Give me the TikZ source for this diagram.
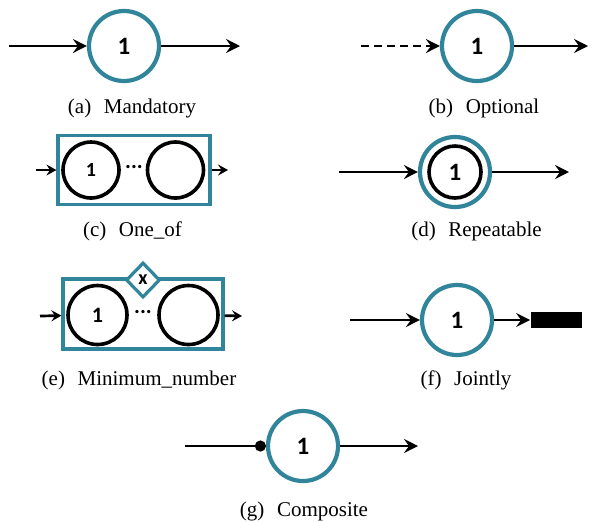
\documentclass[tikz,border=0pt]{standalone}
\usepackage{fontspec}
\setmainfont{Liberation Serif}
\newfontfamily\labelfont{Carlito}
\usetikzlibrary{arrows.meta,shapes.geometric}
\definecolor{stagecol}{RGB}{49,133,155}

\begin{document}
\begin{tikzpicture}[x=0.5pt,y=-0.5pt,
  stage/.style={circle,draw=stagecol,line width=2.1pt,minimum size=35pt,inner sep=0pt,
    font=\labelfont\bfseries\fontsize{12.5}{14}\selectfont},
  option/.style={circle,draw=black,line width=1.8pt,inner sep=0pt,
    font=\labelfont\bfseries\fontsize{10}{12}\selectfont},
  group/.style={rectangle,draw=stagecol,line width=1.6pt,inner sep=0pt},
  flow/.style={line width=1.35pt,-{Stealth[length=7pt,width=7pt,inset=2.5pt]}},
  shortflow/.style={line width=1.35pt,-{Stealth[length=5pt,width=5.5pt,inset=1.8pt]}},
  caption/.style={anchor=base,inner sep=0pt,font=\fontsize{10.5}{12}\selectfont},
  dots/.style={inner sep=0pt,font=\labelfont\bfseries\fontsize{11}{12}\selectfont}
]
\useasboundingbox (0,0) rectangle (592,521);

% (a) mandatory
\node[stage] (A) at (124,46) {1};
\coordinate (Ain) at (9,46);
\coordinate (Aout) at (240,46);
\draw[flow] (Ain) -- (A);
\draw[flow] (A) -- (Aout);
\node[caption] (capA) at (132,113) {(a)\hspace{0.6em}Mandatory};

% (b) optional
\node[stage] (B) at (477,46) {1};
\coordinate (Bin) at (361,46);
\coordinate (Bout) at (588,46);
\draw[flow,dash pattern=on 4pt off 2.5pt] (Bin) -- (B);
\draw[flow] (B) -- (Bout);
\node[caption] (capB) at (484,113) {(b)\hspace{0.6em}Optional};

% (c) one of
\node[group,minimum width=76pt,minimum height=34.5pt] (C) at (134,170) {};
\node[option,minimum size=28pt] (C1) at (91,170) {1};
\node[option,minimum size=28pt] (C2) at (175.5,170) {};
\node[dots] (Cdots) at (134,167) {...};
\coordinate (Cin) at (36,170);
\coordinate (Cout) at (228,170);
\draw[shortflow] (Cin) -- (C);
\draw[shortflow] (C) -- (Cout);
\node[caption] (capC) at (132.5,236) {(c)\hspace{0.6em}One\_of};

% (d) repeatable
\node[stage] (D) at (455,172) {};
\node[option,minimum size=26pt,font=\labelfont\bfseries\fontsize{12.5}{14}\selectfont] (D1) at (455,172) {1};
\coordinate (Din) at (339,172);
\coordinate (Dout) at (569,172);
\draw[flow] (Din) -- (D);
\draw[flow] (D) -- (Dout);
\node[caption] (capD) at (476.5,236) {(d)\hspace{0.6em}Repeatable};

% (e) minimum number
\node[group,minimum width=80pt,minimum height=35pt] (E) at (143,314) {};
\node[option,minimum size=29.5pt,font=\labelfont\bfseries\fontsize{11}{12}\selectfont] (E1) at (97.5,315) {1};
\node[option,minimum size=29.5pt] (E2) at (188.5,315) {};
\node[dots] (Edots) at (143,312) {...};
\node[diamond,draw=stagecol,fill=white,line width=1.6pt,inner sep=0pt,
  minimum width=17pt,minimum height=17.5pt,
  font=\labelfont\bfseries\fontsize{10}{12}\selectfont] (Ek) at (143,280) {x};
\coordinate (Ein) at (40,316);
\coordinate (Eout) at (242,316);
\draw[shortflow] (Ein) -- (E);
\draw[shortflow] (E) -- (Eout);
\node[caption] (capE) at (139,385) {(e)\hspace{0.6em}Minimum\_number};

% (f) jointly
\node[stage] (F) at (457,320) {1};
\node[rectangle,fill=black,inner sep=0pt,minimum width=25.5pt,minimum height=8pt] (J) at (556,320) {};
\coordinate (Fin) at (350,320);
\draw[flow] (Fin) -- (F);
\draw[flow] (F) -- (J);
\node[caption] (capF) at (466,385) {(f)\hspace{0.6em}Jointly};

% (g) composite
\node[stage] (G) at (303,446) {1};
\coordinate (Gin) at (185,446);
\coordinate (Gout) at (418,446);
\draw[line width=1.35pt,-{Circle[length=5.5pt]}] (Gin) -- (G);
\draw[flow] (G) -- (Gout);
\node[caption] (capG) at (304,516) {(g)\hspace{0.6em}Composite};
\end{tikzpicture}
\end{document}
